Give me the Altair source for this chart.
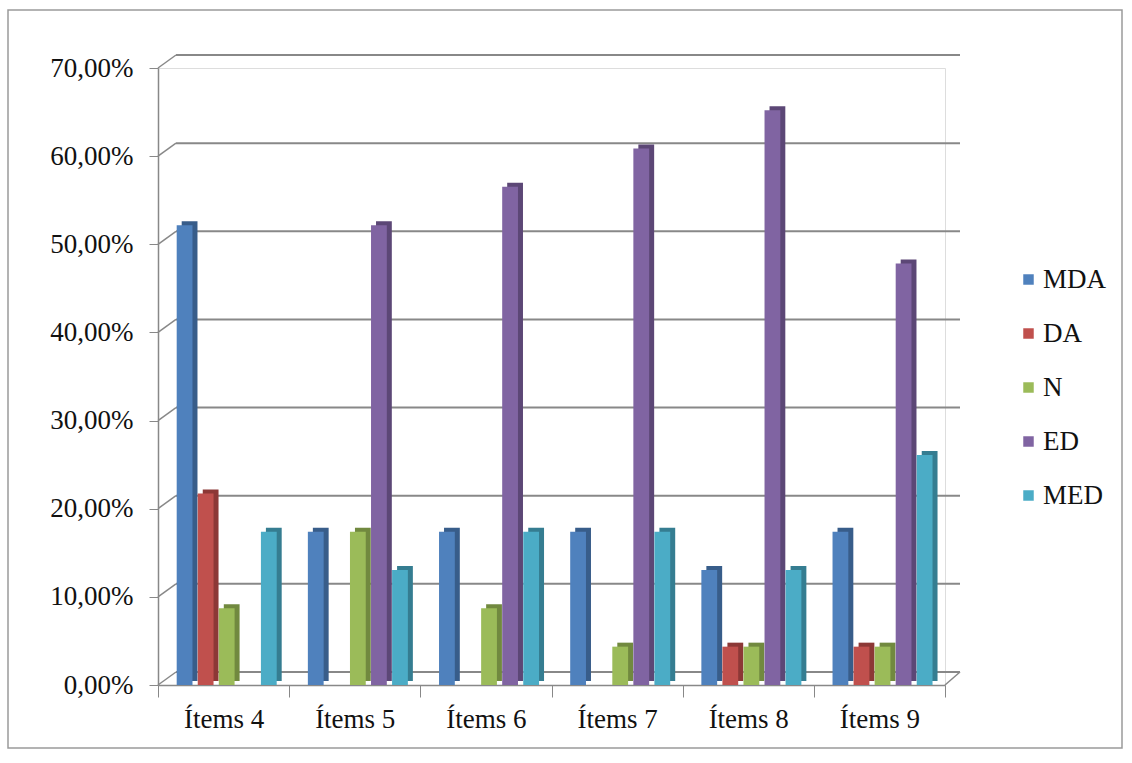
import altair as alt
import pandas as pd

items = ["Ítems 4", "Ítems 5", "Ítems 6", "Ítems 7", "Ítems 8", "Ítems 9"]
series = ["MDA", "DA", "N", "ED", "MED"]
mda = [52.17, 17.39, 17.39, 17.39, 13.04, 17.39]
da = [21.74, 0.0, 0.0, 0.0, 4.35, 4.35]
n = [8.70, 17.39, 8.70, 4.35, 4.35, 4.35]
ed = [0.0, 52.17, 56.52, 60.87, 65.22, 47.83]
med = [17.39, 13.04, 17.39, 17.39, 13.04, 26.09]
y_ticks = [0, 10, 20, 30, 40, 50, 60, 70]

front_colors = ["#4F81BD", "#C0504D", "#9BBB59", "#8064A2", "#4BACC6"]
side_colors = ["#385D8A", "#8C3836", "#71893F", "#5C4776", "#357D91"]

vals = {"MDA": mda, "DA": da, "N": n, "ED": ed, "MED": med}
rows = []
for s in series:
    for it, v in zip(items, vals[s]):
        rows.append({"item": it, "series": s, "value": v})
df = pd.DataFrame(rows)
ticks_df = pd.DataFrame({"v": y_ticks})

W, H = 787, 617
BAND = W / 6
FONT = "Liberation Serif"
FS = 27

yscale = alt.Scale(domain=[0, 70], nice=False)
yaxis = alt.Axis(title=None, values=y_ticks, grid=False,
                 labelExpr="replace(format(datum.value, '.2f'), '.', ',') + '%'",
                 labelFont=FONT, labelFontSize=FS, labelColor="#111",
                 tickSize=9, tickColor="#888", domainColor="#888", domainWidth=1.5,
                 labelPadding=16)
xscale = alt.Scale(paddingInner=0, paddingOuter=0)
xaxis = alt.Axis(title=None, tickBand="extent", labelFont=FONT,
                 labelFontSize=FS, labelColor="#111", labelPadding=9,
                 tickSize=12, tickColor="#888", domainColor="#888", domainWidth=1.5,
                 labelAngle=0)
y_enc = alt.Y("v:Q", scale=yscale, axis=yaxis)

x_enc = alt.X("item:N", sort=items, scale=xscale, axis=xaxis)

# back wall gridlines
grid = alt.Chart(ticks_df).mark_rule(color="#888", strokeWidth=2, yOffset=-13).encode(
    x=alt.value(18), x2=alt.value(W + 15),
    y=y_enc,
)
# diagonal connectors from axis to back wall
diag = alt.Chart(ticks_df).mark_rule(color="#888", strokeWidth=1.5, y2Offset=-13).encode(
    x=alt.value(0), x2=alt.value(18),
    y=y_enc, y2="v:Q",
)
floor_right = alt.Chart(pd.DataFrame({"v": [0]})).mark_rule(color="#888", strokeWidth=1.5, y2Offset=-13).encode(
    x=alt.value(W), x2=alt.value(W + 15),
    y=y_enc, y2="v:Q",
)

PI, PO, AL = 0.25, 0.74, 0.6

side = alt.Chart(df).mark_bar(yOffset=-4).encode(
    x=x_enc,
    xOffset=alt.XOffset("series:N", sort=series,
                        scale=alt.Scale(paddingInner=PI, paddingOuter=PO, align=AL,
                                        range=[5, BAND + 5])),
    y=alt.Y("value:Q", scale=yscale, axis=yaxis),
    color=alt.Color("series:N", sort=series,
                    scale=alt.Scale(domain=series, range=side_colors), legend=None),
)

front = alt.Chart(df).mark_bar().encode(
    x=x_enc,
    xOffset=alt.XOffset("series:N", sort=series,
                        scale=alt.Scale(paddingInner=PI, paddingOuter=PO, align=AL)),
    y=alt.Y("value:Q", scale=yscale, axis=yaxis),
    fill=alt.Fill("series:N", sort=series,
                  scale=alt.Scale(domain=series, range=front_colors),
                  legend=alt.Legend(title=None, orient="none", legendX=857, legendY=198,
                                    labelFont=FONT, labelFontSize=FS, labelColor="#111",
                                    symbolType="square", symbolSize=110,
                                    symbolStrokeWidth=0, rowPadding=26,
                                    labelOffset=1)),
)

border = alt.Chart(pd.DataFrame({"a": [0]})).mark_rect(fill=None, stroke="#9a9a9a", strokeWidth=1.5).encode(
    x=alt.value(-150), x2=alt.value(W + 177),
    y=alt.value(-58), y2=alt.value(H + 63),
)

chart = alt.layer(border, grid, diag, floor_right, side, front).resolve_scale(
    color="independent", xOffset="independent"
).properties(
    width=W, height=H,
    padding={"left": 158, "top": 68, "right": 1132 - 158 - W, "bottom": 763 - 68 - H},
    autosize=alt.AutoSizeParams(type="none"),
).configure_view(stroke=None).configure(
    background="white", font=FONT
).configure_axis(labelFont=FONT).configure_legend(labelFont=FONT)

chart.save("out.html", embed_options={"renderer": "svg", "actions": False})
